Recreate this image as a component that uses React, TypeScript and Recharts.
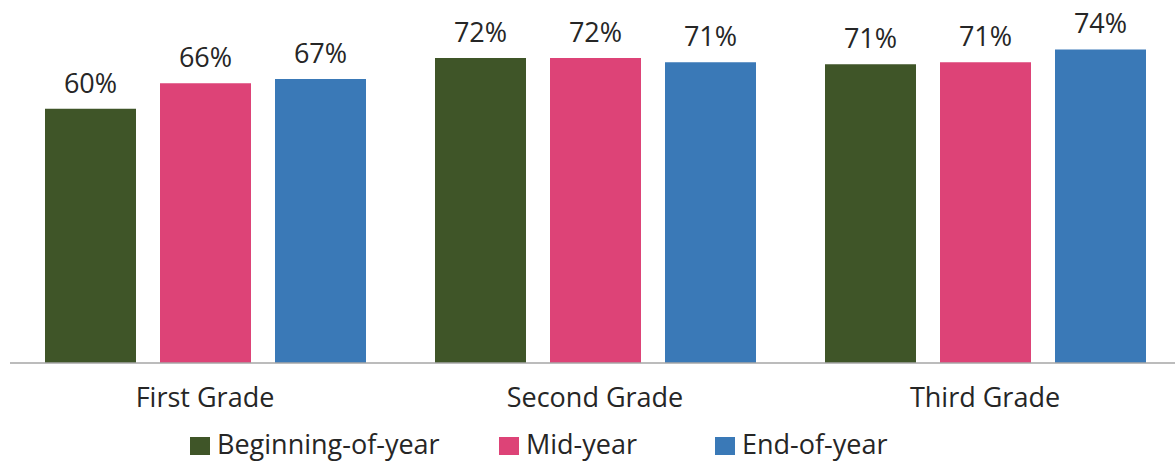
import { BarChart, Bar, XAxis, YAxis, Legend, LabelList } from "recharts";

const grades = ["First Grade", "Second Grade", "Third Grade"];
const beginningOfYear = [0.6, 0.72, 0.705];
const midYear = [0.66, 0.72, 0.71];
const endOfYear = [0.67, 0.71, 0.74];

const seriesNames = ["Beginning-of-year", "Mid-year", "End-of-year"];
const colors = ["#3f5528", "#dd4377", "#3a79b7"];

const chartData = grades.map((grade, i) => ({
  grade,
  boy: beginningOfYear[i],
  moy: midYear[i],
  eoy: endOfYear[i],
}));

const FONT = "'Open Sans', sans-serif";
const TEXT = "#262626";

// legend item positions
const legendLefts = [190, 499, 715];

function renderLegend() {
  return (
    <div style={{ position: "relative", width: 1175, height: 57 }}>
      {seriesNames.map((name, i) => (
        <div
          key={name}
          style={{
            position: "absolute",
            left: legendLefts[i],
            top: 22,
            display: "flex",
            alignItems: "center",
            fontFamily: FONT,
            fontSize: 27,
            color: TEXT,
            lineHeight: "30px",
            whiteSpace: "nowrap",
          }}
        >
          <span
            style={{
              display: "inline-block",
              width: 20,
              height: 18,
              background: colors[i],
              marginRight: 7,
              marginTop: 4,
            }}
          />
          {name}
        </div>
      ))}
    </div>
  );
}

const pct = (v: any) => `${Math.round(Number(v) * 100)}%`;

export default function App() {
  const keys = ["boy", "moy", "eoy"];
  return (
    <div
      style={{
        position: "absolute",
        left: 0,
        top: 0,
        width: 1175,
        height: 464,
        overflow: "hidden",
        background: "#fff",
      }}
    >
      <BarChart
        width={1180}
        height={464}
        data={chartData}
        margin={{ top: 24, right: 0, left: 10, bottom: 0 }}
        barSize={91}
        barGap={24}
      >
        <XAxis
          dataKey="grade"
          axisLine={{ stroke: "#a6a6a6", strokeWidth: 1.5 }}
          tickLine={false}
          tickSize={0}
          tickMargin={25}
          height={44}
          tick={{ fontFamily: FONT, fontSize: 27, fill: TEXT }}
        />
        <YAxis hide domain={[0, 0.8]} />
        <Legend
          verticalAlign="bottom"
          height={57}
          content={renderLegend}
          wrapperStyle={{ left: 0, width: 1175 }}
        />
        {keys.map((k, i) => (
          <Bar
            key={k}
            dataKey={k}
            name={seriesNames[i]}
            fill={colors[i]}
            isAnimationActive={false}
          >
            <LabelList
              dataKey={k}
              position="top"
              offset={16}
              formatter={pct}
              style={{ fontFamily: FONT, fontSize: 27, fill: TEXT }}
            />
          </Bar>
        ))}
      </BarChart>
    </div>
  );
}
